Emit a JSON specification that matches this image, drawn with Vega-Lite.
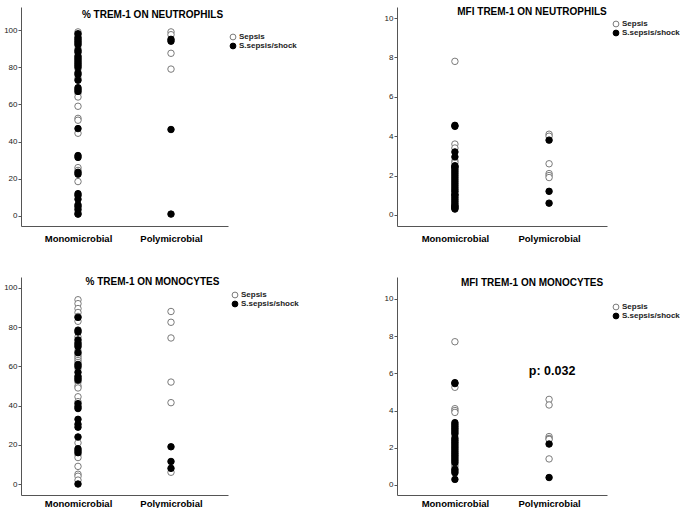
{
  "$schema": "https://vega.github.io/schema/vega-lite/v6.json",
  "background": "white",
  "padding": {"left": 3, "top": 7, "right": 0, "bottom": 0},
  "config": {
    "font": "Liberation Sans",
    "view": {"stroke": null},
    "title": {"fontSize": 10, "fontWeight": "bold", "color": "black", "baseline": "bottom", "anchor": "middle"},
    "axis": {"domainColor": "#555555", "tickColor": "#555555", "labelColor": "#222222", "grid": false, "title": null},
    "axisX": {"ticks": false, "labelFontSize": 9.5, "labelFontWeight": "bold", "labelPadding": 7, "labelAngle": 0, "labelColor": "black"},
    "axisY": {"tickSize": 3, "labelFontSize": 8, "labelPadding": 1},
    "legend": {"orient": "none", "title": null, "padding": 0, "labelFontSize": 8, "labelFontWeight": "bold", "labelColor": "#222222", "symbolSize": 34, "symbolStrokeWidth": 1, "rowPadding": -2, "labelOffset": 2, "symbolType": "circle"},
    "point": {"shape": "circle", "filled": true, "size": 42, "strokeWidth": 1, "opacity": 1}
  },
  "datasets": {
    "d": [
      {"p": "A", "g": "Monomicrobial", "s": "Sepsis", "v": 99},
      {"p": "A", "g": "Monomicrobial", "s": "Sepsis", "v": 97.5},
      {"p": "A", "g": "Monomicrobial", "s": "Sepsis", "v": 90},
      {"p": "A", "g": "Monomicrobial", "s": "Sepsis", "v": 79},
      {"p": "A", "g": "Monomicrobial", "s": "Sepsis", "v": 74},
      {"p": "A", "g": "Monomicrobial", "s": "Sepsis", "v": 66},
      {"p": "A", "g": "Monomicrobial", "s": "Sepsis", "v": 64},
      {"p": "A", "g": "Monomicrobial", "s": "Sepsis", "v": 59},
      {"p": "A", "g": "Monomicrobial", "s": "Sepsis", "v": 52.5},
      {"p": "A", "g": "Monomicrobial", "s": "Sepsis", "v": 51.5},
      {"p": "A", "g": "Monomicrobial", "s": "Sepsis", "v": 44.5},
      {"p": "A", "g": "Monomicrobial", "s": "Sepsis", "v": 26},
      {"p": "A", "g": "Monomicrobial", "s": "Sepsis", "v": 24.5},
      {"p": "A", "g": "Monomicrobial", "s": "Sepsis", "v": 18.5},
      {"p": "A", "g": "Monomicrobial", "s": "Sepsis", "v": 2},
      {"p": "A", "g": "Monomicrobial", "s": "Sepsis", "v": 1},
      {"p": "A", "g": "Polymicrobial", "s": "Sepsis", "v": 99},
      {"p": "A", "g": "Polymicrobial", "s": "Sepsis", "v": 97.5},
      {"p": "A", "g": "Polymicrobial", "s": "Sepsis", "v": 87.5},
      {"p": "A", "g": "Polymicrobial", "s": "Sepsis", "v": 79},
      {"p": "A", "g": "Monomicrobial", "s": "S.sepsis/shock", "v": 98},
      {"p": "A", "g": "Monomicrobial", "s": "S.sepsis/shock", "v": 96},
      {"p": "A", "g": "Monomicrobial", "s": "S.sepsis/shock", "v": 95},
      {"p": "A", "g": "Monomicrobial", "s": "S.sepsis/shock", "v": 94},
      {"p": "A", "g": "Monomicrobial", "s": "S.sepsis/shock", "v": 93},
      {"p": "A", "g": "Monomicrobial", "s": "S.sepsis/shock", "v": 92},
      {"p": "A", "g": "Monomicrobial", "s": "S.sepsis/shock", "v": 89},
      {"p": "A", "g": "Monomicrobial", "s": "S.sepsis/shock", "v": 88},
      {"p": "A", "g": "Monomicrobial", "s": "S.sepsis/shock", "v": 86},
      {"p": "A", "g": "Monomicrobial", "s": "S.sepsis/shock", "v": 85},
      {"p": "A", "g": "Monomicrobial", "s": "S.sepsis/shock", "v": 84},
      {"p": "A", "g": "Monomicrobial", "s": "S.sepsis/shock", "v": 83},
      {"p": "A", "g": "Monomicrobial", "s": "S.sepsis/shock", "v": 82},
      {"p": "A", "g": "Monomicrobial", "s": "S.sepsis/shock", "v": 81},
      {"p": "A", "g": "Monomicrobial", "s": "S.sepsis/shock", "v": 80},
      {"p": "A", "g": "Monomicrobial", "s": "S.sepsis/shock", "v": 77},
      {"p": "A", "g": "Monomicrobial", "s": "S.sepsis/shock", "v": 76},
      {"p": "A", "g": "Monomicrobial", "s": "S.sepsis/shock", "v": 73},
      {"p": "A", "g": "Monomicrobial", "s": "S.sepsis/shock", "v": 69},
      {"p": "A", "g": "Monomicrobial", "s": "S.sepsis/shock", "v": 68},
      {"p": "A", "g": "Monomicrobial", "s": "S.sepsis/shock", "v": 67},
      {"p": "A", "g": "Monomicrobial", "s": "S.sepsis/shock", "v": 47},
      {"p": "A", "g": "Monomicrobial", "s": "S.sepsis/shock", "v": 32.5},
      {"p": "A", "g": "Monomicrobial", "s": "S.sepsis/shock", "v": 31.5},
      {"p": "A", "g": "Monomicrobial", "s": "S.sepsis/shock", "v": 23.5},
      {"p": "A", "g": "Monomicrobial", "s": "S.sepsis/shock", "v": 22.5},
      {"p": "A", "g": "Monomicrobial", "s": "S.sepsis/shock", "v": 12},
      {"p": "A", "g": "Monomicrobial", "s": "S.sepsis/shock", "v": 11},
      {"p": "A", "g": "Monomicrobial", "s": "S.sepsis/shock", "v": 9},
      {"p": "A", "g": "Monomicrobial", "s": "S.sepsis/shock", "v": 6},
      {"p": "A", "g": "Monomicrobial", "s": "S.sepsis/shock", "v": 5},
      {"p": "A", "g": "Monomicrobial", "s": "S.sepsis/shock", "v": 3.5},
      {"p": "A", "g": "Monomicrobial", "s": "S.sepsis/shock", "v": 1},
      {"p": "A", "g": "Polymicrobial", "s": "S.sepsis/shock", "v": 95},
      {"p": "A", "g": "Polymicrobial", "s": "S.sepsis/shock", "v": 94},
      {"p": "A", "g": "Polymicrobial", "s": "S.sepsis/shock", "v": 46.5},
      {"p": "A", "g": "Polymicrobial", "s": "S.sepsis/shock", "v": 1},

      {"p": "B", "g": "Monomicrobial", "s": "Sepsis", "v": 7.8},
      {"p": "B", "g": "Monomicrobial", "s": "Sepsis", "v": 3.6},
      {"p": "B", "g": "Monomicrobial", "s": "Sepsis", "v": 3.4},
      {"p": "B", "g": "Monomicrobial", "s": "Sepsis", "v": 2.75},
      {"p": "B", "g": "Monomicrobial", "s": "Sepsis", "v": 2.65},
      {"p": "B", "g": "Monomicrobial", "s": "Sepsis", "v": 1.15},
      {"p": "B", "g": "Polymicrobial", "s": "Sepsis", "v": 4.1},
      {"p": "B", "g": "Polymicrobial", "s": "Sepsis", "v": 4.0},
      {"p": "B", "g": "Polymicrobial", "s": "Sepsis", "v": 2.6},
      {"p": "B", "g": "Polymicrobial", "s": "Sepsis", "v": 2.1},
      {"p": "B", "g": "Polymicrobial", "s": "Sepsis", "v": 2.0},
      {"p": "B", "g": "Polymicrobial", "s": "Sepsis", "v": 1.9},
      {"p": "B", "g": "Monomicrobial", "s": "S.sepsis/shock", "v": 4.55},
      {"p": "B", "g": "Monomicrobial", "s": "S.sepsis/shock", "v": 4.5},
      {"p": "B", "g": "Monomicrobial", "s": "S.sepsis/shock", "v": 3.2},
      {"p": "B", "g": "Monomicrobial", "s": "S.sepsis/shock", "v": 2.95},
      {"p": "B", "g": "Monomicrobial", "s": "S.sepsis/shock", "v": 2.5},
      {"p": "B", "g": "Monomicrobial", "s": "S.sepsis/shock", "v": 2.45},
      {"p": "B", "g": "Monomicrobial", "s": "S.sepsis/shock", "v": 2.4},
      {"p": "B", "g": "Monomicrobial", "s": "S.sepsis/shock", "v": 2.3},
      {"p": "B", "g": "Monomicrobial", "s": "S.sepsis/shock", "v": 2.2},
      {"p": "B", "g": "Monomicrobial", "s": "S.sepsis/shock", "v": 2.1},
      {"p": "B", "g": "Monomicrobial", "s": "S.sepsis/shock", "v": 2.0},
      {"p": "B", "g": "Monomicrobial", "s": "S.sepsis/shock", "v": 1.9},
      {"p": "B", "g": "Monomicrobial", "s": "S.sepsis/shock", "v": 1.8},
      {"p": "B", "g": "Monomicrobial", "s": "S.sepsis/shock", "v": 1.7},
      {"p": "B", "g": "Monomicrobial", "s": "S.sepsis/shock", "v": 1.6},
      {"p": "B", "g": "Monomicrobial", "s": "S.sepsis/shock", "v": 1.5},
      {"p": "B", "g": "Monomicrobial", "s": "S.sepsis/shock", "v": 1.4},
      {"p": "B", "g": "Monomicrobial", "s": "S.sepsis/shock", "v": 1.3},
      {"p": "B", "g": "Monomicrobial", "s": "S.sepsis/shock", "v": 1.2},
      {"p": "B", "g": "Monomicrobial", "s": "S.sepsis/shock", "v": 1.05},
      {"p": "B", "g": "Monomicrobial", "s": "S.sepsis/shock", "v": 1.0},
      {"p": "B", "g": "Monomicrobial", "s": "S.sepsis/shock", "v": 0.9},
      {"p": "B", "g": "Monomicrobial", "s": "S.sepsis/shock", "v": 0.8},
      {"p": "B", "g": "Monomicrobial", "s": "S.sepsis/shock", "v": 0.7},
      {"p": "B", "g": "Monomicrobial", "s": "S.sepsis/shock", "v": 0.6},
      {"p": "B", "g": "Monomicrobial", "s": "S.sepsis/shock", "v": 0.5},
      {"p": "B", "g": "Monomicrobial", "s": "S.sepsis/shock", "v": 0.45},
      {"p": "B", "g": "Monomicrobial", "s": "S.sepsis/shock", "v": 0.4},
      {"p": "B", "g": "Monomicrobial", "s": "S.sepsis/shock", "v": 0.35},
      {"p": "B", "g": "Monomicrobial", "s": "S.sepsis/shock", "v": 0.3},
      {"p": "B", "g": "Polymicrobial", "s": "S.sepsis/shock", "v": 3.8},
      {"p": "B", "g": "Polymicrobial", "s": "S.sepsis/shock", "v": 1.2},
      {"p": "B", "g": "Polymicrobial", "s": "S.sepsis/shock", "v": 0.6},

      {"p": "C", "g": "Monomicrobial", "s": "Sepsis", "v": 94},
      {"p": "C", "g": "Monomicrobial", "s": "Sepsis", "v": 92},
      {"p": "C", "g": "Monomicrobial", "s": "Sepsis", "v": 89.5},
      {"p": "C", "g": "Monomicrobial", "s": "Sepsis", "v": 87.5},
      {"p": "C", "g": "Monomicrobial", "s": "Sepsis", "v": 85.5},
      {"p": "C", "g": "Monomicrobial", "s": "Sepsis", "v": 83},
      {"p": "C", "g": "Monomicrobial", "s": "Sepsis", "v": 75},
      {"p": "C", "g": "Monomicrobial", "s": "Sepsis", "v": 68},
      {"p": "C", "g": "Monomicrobial", "s": "Sepsis", "v": 66},
      {"p": "C", "g": "Monomicrobial", "s": "Sepsis", "v": 65},
      {"p": "C", "g": "Monomicrobial", "s": "Sepsis", "v": 64},
      {"p": "C", "g": "Monomicrobial", "s": "Sepsis", "v": 63},
      {"p": "C", "g": "Monomicrobial", "s": "Sepsis", "v": 62},
      {"p": "C", "g": "Monomicrobial", "s": "Sepsis", "v": 59},
      {"p": "C", "g": "Monomicrobial", "s": "Sepsis", "v": 52},
      {"p": "C", "g": "Monomicrobial", "s": "Sepsis", "v": 50},
      {"p": "C", "g": "Monomicrobial", "s": "Sepsis", "v": 49},
      {"p": "C", "g": "Monomicrobial", "s": "Sepsis", "v": 44.5},
      {"p": "C", "g": "Monomicrobial", "s": "Sepsis", "v": 42},
      {"p": "C", "g": "Monomicrobial", "s": "Sepsis", "v": 21},
      {"p": "C", "g": "Monomicrobial", "s": "Sepsis", "v": 15},
      {"p": "C", "g": "Monomicrobial", "s": "Sepsis", "v": 13.5},
      {"p": "C", "g": "Monomicrobial", "s": "Sepsis", "v": 9},
      {"p": "C", "g": "Monomicrobial", "s": "Sepsis", "v": 5},
      {"p": "C", "g": "Monomicrobial", "s": "Sepsis", "v": 4},
      {"p": "C", "g": "Monomicrobial", "s": "Sepsis", "v": 2},
      {"p": "C", "g": "Polymicrobial", "s": "Sepsis", "v": 88},
      {"p": "C", "g": "Polymicrobial", "s": "Sepsis", "v": 82.5},
      {"p": "C", "g": "Polymicrobial", "s": "Sepsis", "v": 74.5},
      {"p": "C", "g": "Polymicrobial", "s": "Sepsis", "v": 52},
      {"p": "C", "g": "Polymicrobial", "s": "Sepsis", "v": 41.5},
      {"p": "C", "g": "Polymicrobial", "s": "Sepsis", "v": 6},
      {"p": "C", "g": "Monomicrobial", "s": "S.sepsis/shock", "v": 85},
      {"p": "C", "g": "Monomicrobial", "s": "S.sepsis/shock", "v": 78.5},
      {"p": "C", "g": "Monomicrobial", "s": "S.sepsis/shock", "v": 77.5},
      {"p": "C", "g": "Monomicrobial", "s": "S.sepsis/shock", "v": 73.5},
      {"p": "C", "g": "Monomicrobial", "s": "S.sepsis/shock", "v": 72},
      {"p": "C", "g": "Monomicrobial", "s": "S.sepsis/shock", "v": 71},
      {"p": "C", "g": "Monomicrobial", "s": "S.sepsis/shock", "v": 70},
      {"p": "C", "g": "Monomicrobial", "s": "S.sepsis/shock", "v": 67},
      {"p": "C", "g": "Monomicrobial", "s": "S.sepsis/shock", "v": 61},
      {"p": "C", "g": "Monomicrobial", "s": "S.sepsis/shock", "v": 60},
      {"p": "C", "g": "Monomicrobial", "s": "S.sepsis/shock", "v": 57},
      {"p": "C", "g": "Monomicrobial", "s": "S.sepsis/shock", "v": 55},
      {"p": "C", "g": "Monomicrobial", "s": "S.sepsis/shock", "v": 54},
      {"p": "C", "g": "Monomicrobial", "s": "S.sepsis/shock", "v": 53},
      {"p": "C", "g": "Monomicrobial", "s": "S.sepsis/shock", "v": 41},
      {"p": "C", "g": "Monomicrobial", "s": "S.sepsis/shock", "v": 39.5},
      {"p": "C", "g": "Monomicrobial", "s": "S.sepsis/shock", "v": 38.5},
      {"p": "C", "g": "Monomicrobial", "s": "S.sepsis/shock", "v": 33},
      {"p": "C", "g": "Monomicrobial", "s": "S.sepsis/shock", "v": 30.5},
      {"p": "C", "g": "Monomicrobial", "s": "S.sepsis/shock", "v": 29},
      {"p": "C", "g": "Monomicrobial", "s": "S.sepsis/shock", "v": 24},
      {"p": "C", "g": "Monomicrobial", "s": "S.sepsis/shock", "v": 18},
      {"p": "C", "g": "Monomicrobial", "s": "S.sepsis/shock", "v": 17},
      {"p": "C", "g": "Monomicrobial", "s": "S.sepsis/shock", "v": 16},
      {"p": "C", "g": "Monomicrobial", "s": "S.sepsis/shock", "v": 0},
      {"p": "C", "g": "Polymicrobial", "s": "S.sepsis/shock", "v": 19},
      {"p": "C", "g": "Polymicrobial", "s": "S.sepsis/shock", "v": 11.5},
      {"p": "C", "g": "Polymicrobial", "s": "S.sepsis/shock", "v": 8},

      {"p": "D", "g": "Monomicrobial", "s": "Sepsis", "v": 7.7},
      {"p": "D", "g": "Monomicrobial", "s": "Sepsis", "v": 5.25},
      {"p": "D", "g": "Monomicrobial", "s": "Sepsis", "v": 4.1},
      {"p": "D", "g": "Monomicrobial", "s": "Sepsis", "v": 4.0},
      {"p": "D", "g": "Monomicrobial", "s": "Sepsis", "v": 3.9},
      {"p": "D", "g": "Monomicrobial", "s": "Sepsis", "v": 2.6},
      {"p": "D", "g": "Monomicrobial", "s": "Sepsis", "v": 1.1},
      {"p": "D", "g": "Monomicrobial", "s": "Sepsis", "v": 1.0},
      {"p": "D", "g": "Polymicrobial", "s": "Sepsis", "v": 4.6},
      {"p": "D", "g": "Polymicrobial", "s": "Sepsis", "v": 4.3},
      {"p": "D", "g": "Polymicrobial", "s": "Sepsis", "v": 2.6},
      {"p": "D", "g": "Polymicrobial", "s": "Sepsis", "v": 2.5},
      {"p": "D", "g": "Polymicrobial", "s": "Sepsis", "v": 2.45},
      {"p": "D", "g": "Polymicrobial", "s": "Sepsis", "v": 1.4},
      {"p": "D", "g": "Monomicrobial", "s": "S.sepsis/shock", "v": 5.5},
      {"p": "D", "g": "Monomicrobial", "s": "S.sepsis/shock", "v": 5.45},
      {"p": "D", "g": "Monomicrobial", "s": "S.sepsis/shock", "v": 3.35},
      {"p": "D", "g": "Monomicrobial", "s": "S.sepsis/shock", "v": 3.25},
      {"p": "D", "g": "Monomicrobial", "s": "S.sepsis/shock", "v": 3.15},
      {"p": "D", "g": "Monomicrobial", "s": "S.sepsis/shock", "v": 3.05},
      {"p": "D", "g": "Monomicrobial", "s": "S.sepsis/shock", "v": 2.95},
      {"p": "D", "g": "Monomicrobial", "s": "S.sepsis/shock", "v": 2.85},
      {"p": "D", "g": "Monomicrobial", "s": "S.sepsis/shock", "v": 2.75},
      {"p": "D", "g": "Monomicrobial", "s": "S.sepsis/shock", "v": 2.5},
      {"p": "D", "g": "Monomicrobial", "s": "S.sepsis/shock", "v": 2.4},
      {"p": "D", "g": "Monomicrobial", "s": "S.sepsis/shock", "v": 2.3},
      {"p": "D", "g": "Monomicrobial", "s": "S.sepsis/shock", "v": 2.2},
      {"p": "D", "g": "Monomicrobial", "s": "S.sepsis/shock", "v": 2.1},
      {"p": "D", "g": "Monomicrobial", "s": "S.sepsis/shock", "v": 2.0},
      {"p": "D", "g": "Monomicrobial", "s": "S.sepsis/shock", "v": 1.9},
      {"p": "D", "g": "Monomicrobial", "s": "S.sepsis/shock", "v": 1.8},
      {"p": "D", "g": "Monomicrobial", "s": "S.sepsis/shock", "v": 1.7},
      {"p": "D", "g": "Monomicrobial", "s": "S.sepsis/shock", "v": 1.6},
      {"p": "D", "g": "Monomicrobial", "s": "S.sepsis/shock", "v": 1.5},
      {"p": "D", "g": "Monomicrobial", "s": "S.sepsis/shock", "v": 1.4},
      {"p": "D", "g": "Monomicrobial", "s": "S.sepsis/shock", "v": 1.3},
      {"p": "D", "g": "Monomicrobial", "s": "S.sepsis/shock", "v": 1.2},
      {"p": "D", "g": "Monomicrobial", "s": "S.sepsis/shock", "v": 0.85},
      {"p": "D", "g": "Monomicrobial", "s": "S.sepsis/shock", "v": 0.75},
      {"p": "D", "g": "Monomicrobial", "s": "S.sepsis/shock", "v": 0.65},
      {"p": "D", "g": "Monomicrobial", "s": "S.sepsis/shock", "v": 0.3},
      {"p": "D", "g": "Polymicrobial", "s": "S.sepsis/shock", "v": 2.2},
      {"p": "D", "g": "Polymicrobial", "s": "S.sepsis/shock", "v": 0.4}
    ],
    "ptext": [
      {"g": "Polymicrobial", "v": 6.15, "label": "p: 0.032"}
    ]
  },
  "columns": 2,
  "bounds": "flush",
  "spacing": {"row": 51, "column": 169},
  "resolve": {
    "scale": {"x": "independent", "y": "independent", "fill": "independent", "stroke": "independent"},
    "legend": {"fill": "independent", "stroke": "independent"}
  },
  "concat": [
    {
      "width": 207, "height": 219,
      "title": {"text": "% TREM-1 ON NEUTROPHILS", "offset": -13, "dx": 28},
      "data": {"name": "d"},
      "transform": [{"filter": "datum.p == 'A'"}],
      "mark": {"type": "point"},
      "encoding": {
        "x": {"field": "g", "type": "nominal", "sort": null, "scale": {"type": "point", "padding": 0.613, "domain": ["Monomicrobial", "Polymicrobial"]}},
        "y": {"field": "v", "type": "quantitative", "scale": {"domain": [-5.4, 112.4], "nice": false, "zero": false}, "axis": {"values": [0, 20, 40, 60, 80, 100]}},
        "fill": {"field": "s", "type": "nominal", "scale": {"domain": ["Sepsis", "S.sepsis/shock"], "range": ["white", "black"]}, "legend": {"legendX": 208, "legendY": 26}},
        "stroke": {"field": "s", "type": "nominal", "scale": {"domain": ["Sepsis", "S.sepsis/shock"], "range": ["#7a7a7a", "black"]}, "legend": {"legendX": 208, "legendY": 26}}
      }
    },
    {
      "width": 210, "height": 219,
      "title": {"text": "MFI TREM-1 ON NEUTROPHILS", "offset": -10, "dx": 30},
      "data": {"name": "d"},
      "transform": [{"filter": "datum.p == 'B'"}],
      "mark": {"type": "point"},
      "encoding": {
        "x": {"field": "g", "type": "nominal", "sort": null, "scale": {"type": "point", "padding": 0.615, "domain": ["Monomicrobial", "Polymicrobial"]}},
        "y": {"field": "v", "type": "quantitative", "scale": {"domain": [-0.56, 10.56], "nice": false, "zero": false}, "axis": {"values": [0, 2, 4, 6, 8, 10]}},
        "fill": {"field": "s", "type": "nominal", "scale": {"domain": ["Sepsis", "S.sepsis/shock"], "range": ["white", "black"]}, "legend": {"legendX": 215, "legendY": 13}},
        "stroke": {"field": "s", "type": "nominal", "scale": {"domain": ["Sepsis", "S.sepsis/shock"], "range": ["#7a7a7a", "black"]}, "legend": {"legendX": 215, "legendY": 13}}
      }
    },
    {
      "width": 207, "height": 218,
      "title": {"text": "% TREM-1 ON MONOCYTES", "offset": -10, "dx": 28},
      "data": {"name": "d"},
      "transform": [{"filter": "datum.p == 'C'"}],
      "mark": {"type": "point"},
      "encoding": {
        "x": {"field": "g", "type": "nominal", "sort": null, "scale": {"type": "point", "padding": 0.613, "domain": ["Monomicrobial", "Polymicrobial"]}, "axis": {"labelPadding": 3}},
        "y": {"field": "v", "type": "quantitative", "scale": {"domain": [-5.6, 105.6], "nice": false, "zero": false}, "axis": {"values": [0, 20, 40, 60, 80, 100]}},
        "fill": {"field": "s", "type": "nominal", "scale": {"domain": ["Sepsis", "S.sepsis/shock"], "range": ["white", "black"]}, "legend": {"legendX": 210, "legendY": 14}},
        "stroke": {"field": "s", "type": "nominal", "scale": {"domain": ["Sepsis", "S.sepsis/shock"], "range": ["#7a7a7a", "black"]}, "legend": {"legendX": 210, "legendY": 14}}
      }
    },
    {
      "width": 210, "height": 218,
      "title": {"text": "MFI TREM-1 ON MONOCYTES", "offset": -11, "dx": 30},
      "layer": [
        {
          "data": {"name": "d"},
          "transform": [{"filter": "datum.p == 'D'"}],
          "mark": {"type": "point"},
          "encoding": {
            "x": {"field": "g", "type": "nominal", "sort": null, "scale": {"type": "point", "padding": 0.615, "domain": ["Monomicrobial", "Polymicrobial"]}, "axis": {"labelPadding": 3}},
            "y": {"field": "v", "type": "quantitative", "scale": {"domain": [-0.54, 11.18], "nice": false, "zero": false}, "axis": {"values": [0, 2, 4, 6, 8, 10]}},
            "fill": {"field": "s", "type": "nominal", "scale": {"domain": ["Sepsis", "S.sepsis/shock"], "range": ["white", "black"]}, "legend": {"legendX": 215, "legendY": 26}},
            "stroke": {"field": "s", "type": "nominal", "scale": {"domain": ["Sepsis", "S.sepsis/shock"], "range": ["#7a7a7a", "black"]}, "legend": {"legendX": 215, "legendY": 26}}
          }
        },
        {
          "data": {"name": "ptext"},
          "mark": {"type": "text", "fontSize": 12.5, "fontWeight": "bold", "color": "black", "dx": 3},
          "encoding": {
            "x": {"field": "g", "type": "nominal"},
            "y": {"field": "v", "type": "quantitative"},
            "text": {"field": "label"}
          }
        }
      ]
    }
  ]
}
